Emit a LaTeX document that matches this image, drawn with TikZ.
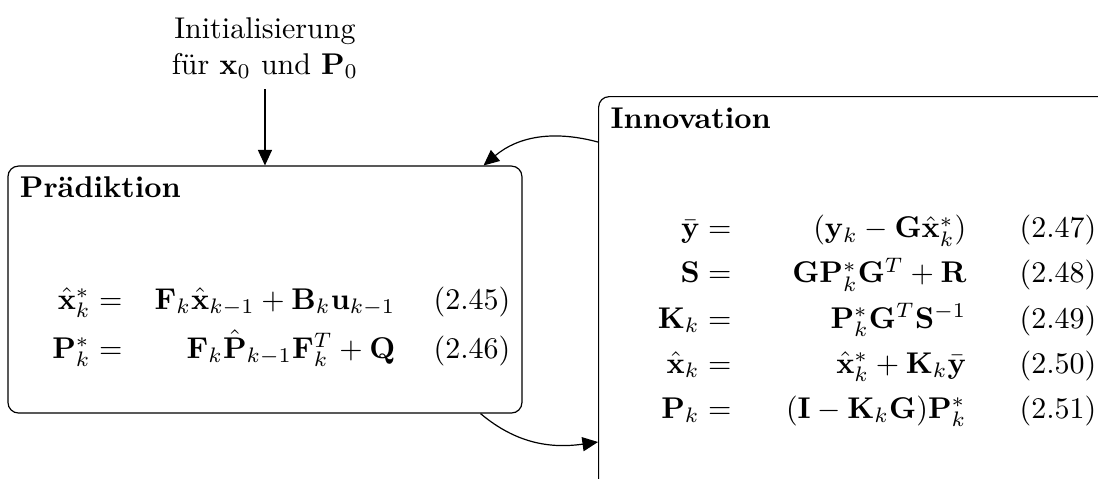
\documentclass[tikz,border=0pt]{standalone}
\usetikzlibrary{arrows.meta,positioning}

\tikzset{
	box/.style={draw, rounded corners=3.5pt, inner sep=0pt},
	arr/.style={-{Triangle[length=5.2pt,width=4.7pt]}},
	title/.style={anchor=base west, inner sep=0pt, font=\bfseries},
	eqn/.style={anchor=base east, inner sep=0pt}
}

\begin{document}
\begin{tikzpicture}
	
	% Frame of the whole picture
	\useasboundingbox (0,0) rectangle (12.863,-5.600);
	\clip (0,0) rectangle (12.863,-5.600);
	
	% Parameters (x of the right edges of the columns)
	\def\predEq{1.441}
	\def\predRhs{4.639}
	\def\predTag{5.986}
	\def\innEq{8.575}
	\def\innRhs{11.328}
	\def\innTag{12.851}
	
	% -----------------------------
	% Boxes
	% -----------------------------
	\node[box, minimum width=6.021cm, minimum height=2.893cm] (pred) at (3.104,-3.392) {};
	\node[box, anchor=north west, minimum width=6.5cm, minimum height=5cm] (innov) at (7.006,-1.125) {};
	
	\node[title] (predtitle) at ([shift={(0.14,-0.375)}]pred.north west) {Prädiktion};
	\node[title] (innovtitle) at ([shift={(0.14,-0.375)}]innov.north west) {Innovation};
	
	% Start values
	\node[above=0.89cm of pred, align=center] (init) {Initialisierung\\für $\mathbf{x}_0$ und $\mathbf{P}_0$};
	
	% -----------------------------
	% Prediction equations
	% -----------------------------
	\foreach \lhs/\rhs/\nr/\yb [count=\i] in {
		\hat{\mathbf{x}}_k^*/\mathbf{F}_k\hat{\mathbf{x}}_{k-1}+\mathbf{B}_k\mathbf{u}_{k-1}/45/-3.620,
		\mathbf{P}_k^*/\mathbf{F}_k\hat{\mathbf{P}}_{k-1}\mathbf{F}_k^T+\mathbf{Q}/46/-4.194} {
		\node[eqn] (pl\i) at (\predEq,\yb) {$\lhs =$};
		\node[eqn] (pr\i) at (\predRhs,\yb) {$\rhs$};
		\node[eqn] (pt\i) at (\predTag,\yb) {(2.\nr)};
	}
	
	% -----------------------------
	% Innovation equations
	% -----------------------------
	\foreach \lhs/\rhs/\nr/\yb [count=\i] in {
		\bar{\mathbf{y}}/(\mathbf{y}_k-\mathbf{G}\hat{\mathbf{x}}_k^*)/47/-2.788,
		\mathbf{S}/\mathbf{G}\mathbf{P}_k^*\mathbf{G}^T+\mathbf{R}/48/-3.315,
		\mathbf{K}_k/\mathbf{P}_k^*\mathbf{G}^T\mathbf{S}^{-1}/49/-3.843,
		\hat{\mathbf{x}}_k/\hat{\mathbf{x}}_k^*+\mathbf{K}_k\bar{\mathbf{y}}/50/-4.370,
		\mathbf{P}_k/(\mathbf{I}-\mathbf{K}_k\mathbf{G})\mathbf{P}_k^*/51/-4.897} {
		\node[eqn] (il\i) at (\innEq,\yb) {$\lhs =$};
		\node[eqn] (ir\i) at (\innRhs,\yb) {$\rhs$};
		\node[eqn] (it\i) at (\innTag,\yb) {(2.\nr)};
	}
	
	% -----------------------------
	% Arrows
	% -----------------------------
	\draw[arr] (init) -- (pred);
	\draw[arr] ([yshift=-0.539cm]innov.north west) to[out=165,in=40] ([xshift=-0.457cm]pred.north east);
	\draw[arr] ([xshift=-0.492cm]pred.south east) to[out=-40,in=188] ([yshift=-4.053cm]innov.north west);
	
\end{tikzpicture}
\end{document}
